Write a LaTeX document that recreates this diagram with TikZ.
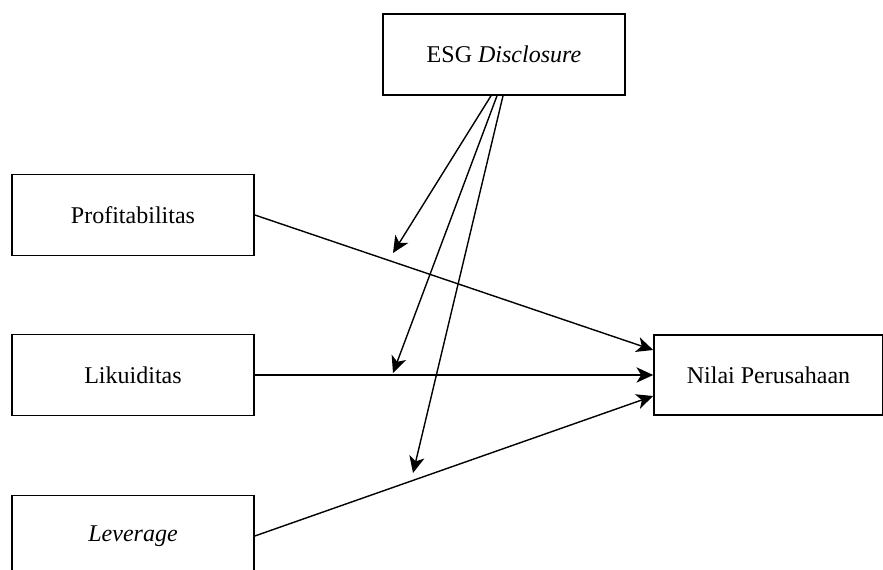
\documentclass[tikz,border=0pt]{standalone}
\usepackage{fontspec}
\setmainfont{Liberation Serif}
\usetikzlibrary{arrows.meta,positioning,calc}
\tikzset{
  varbox/.style={draw, line width=1.4pt, minimum width=7.26cm, minimum height=2.43cm,
    font=\fontsize{20.5}{24}\selectfont},
  effect/.style={-{Stealth[length=5mm,width=4.6mm,inset=1.4mm]}, line width=1.2pt},
}

\begin{document}
\begin{tikzpicture}[x=0.03cm, y=-0.03cm]
    \useasboundingbox (0,0) rectangle (883,570);
    % variables
    \node[varbox] (esg) at (504,54.5) {ESG \textit{Disclosure}};
    \node[varbox] (prof) at (133,215) {Profitabilitas};
    \node[varbox] (likuid) at (133,375) {Likuiditas};
    \node[varbox] (lev) at (133,536) {\textit{Leverage}};
    \node[varbox, minimum width=6.87cm, minimum height=2.4cm] (nilai) at (768.5,375) {Nilai Perusahaan};
    % direct effects
    \draw[effect] (prof.east) -- ($(nilai.west)+(0,-25)$);
    \draw[effect] (likuid.east) -- (nilai.west);
    \draw[effect] (lev.east) -- ($(nilai.west)+(0,21)$);
    % moderation
    \coordinate (mprof) at (393,253);
    \coordinate (mlikuid) at (393,373);
    \coordinate (mlev) at (413,473);
    \draw[effect] ($(esg.south)+(-13,0)$) -- (mprof);
    \draw[effect] ($(esg.south)+(-7,0)$) -- (mlikuid);
    \draw[effect] ($(esg.south)+(-1,0)$) -- (mlev);
\end{tikzpicture}
\end{document}
